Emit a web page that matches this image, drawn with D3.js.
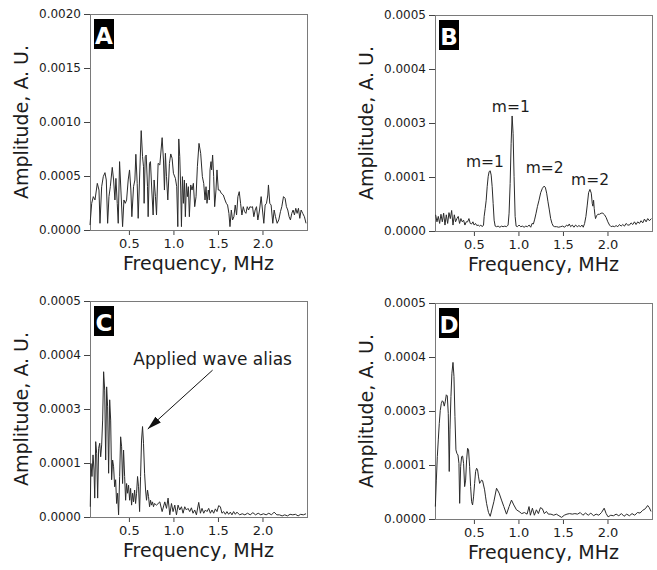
<!DOCTYPE html>
<html><head><meta charset="utf-8">
<script src="https://cdn.jsdelivr.net/npm/d3@7"></script>
<style>body{margin:0;background:#fff} svg{display:block}</style>
</head><body><svg id="chart" width="657" height="570"></svg>
<script>
// amplitudes are stored in units of 1e-4 A.U.
const UNIT = 1e-4;

const freqA = [0.063,0.082,0.100,0.119,0.145,0.164,0.175,0.194,0.212,0.231,
0.246,0.261,0.276,0.291,0.313,0.328,0.343,0.354,0.369,0.380,
0.395,0.410,0.429,0.444,0.459,0.474,0.492,0.507,0.522,0.533,
0.552,0.567,0.578,0.593,0.604,0.619,0.638,0.653,0.664,0.671,
0.683,0.694,0.709,0.716,0.731,0.742,0.757,0.772,0.783,0.798,
0.810,0.828,0.847,0.873,0.888,0.899,0.910,0.922,0.937,0.955,
0.970,0.985,1.000,1.022,1.037,1.049,1.060,1.071,1.082,1.090,
1.101,1.112,1.123,1.134,1.146,1.157,1.168,1.179,1.194,1.209,
1.224,1.239,1.254,1.269,1.287,1.306,1.325,1.340,1.355,1.366,
1.377,1.392,1.403,1.411,1.422,1.429,1.440,1.452,1.463,1.478,
1.489,1.504,1.519,1.537,1.560,1.579,1.594,1.608,1.623,1.635,
1.650,1.664,1.679,1.694,1.709,1.724,1.739,1.754,1.769,1.784,
1.799,1.814,1.829,1.844,1.859,1.873,1.888,1.903,1.918,1.933,
1.948,1.967,1.985,2.000,2.015,2.030,2.045,2.060,2.067,2.082,
2.097,2.116,2.131,2.146,2.165,2.183,2.202,2.217,2.236,2.254,
2.269,2.284,2.299,2.314,2.329,2.344,2.359,2.374,2.389,2.404,
2.419,2.434,2.452,2.471,2.489];
const ampA = [0.46,2.47,3.09,2.78,4.32,3.70,0.62,4.01,4.94,5.31,
4.63,0.62,3.09,4.01,5.80,4.63,2.78,4.78,2.47,0.62,
6.33,3.70,0.31,2.78,2.47,2.78,4.63,5.56,3.70,1.23,
4.01,4.63,7.01,4.32,1.08,4.63,9.20,6.79,5.86,2.47,
6.79,6.94,4.01,1.23,6.17,6.33,3.70,1.39,4.63,3.09,
1.39,6.17,6.02,8.55,6.48,3.70,7.10,4.94,2.78,6.17,
7.04,6.64,5.25,4.78,4.01,0.31,8.43,6.79,3.70,0.31,
4.94,2.47,4.63,1.23,4.32,3.09,4.01,1.23,4.17,3.70,
4.32,2.16,3.09,5.86,8.02,7.10,4.94,4.32,2.78,4.01,
2.47,3.70,2.78,5.56,6.33,5.56,6.94,4.94,2.16,3.70,
5.56,3.70,3.70,3.40,3.24,2.78,2.47,2.31,1.54,0.31,
1.85,0.93,1.23,2.31,1.39,3.09,3.55,2.47,1.39,2.16,
1.70,1.54,2.16,1.85,2.16,2.10,2.16,1.23,1.85,2.16,
0.93,1.85,3.09,1.85,0.62,2.31,2.47,3.24,4.17,2.47,
2.31,0.62,1.85,1.23,0.62,0.93,1.70,2.16,3.09,2.93,
2.16,1.85,1.23,0.93,1.54,1.85,1.39,2.01,1.54,2.01,
1.08,1.85,1.54,1.23,0.62];

const freqB = [0.070,0.085,0.100,0.115,0.130,0.145,0.160,0.175,0.190,0.205,
0.220,0.235,0.250,0.265,0.280,0.294,0.309,0.324,0.339,0.354,
0.369,0.384,0.399,0.414,0.429,0.444,0.459,0.474,0.489,0.503,
0.518,0.533,0.548,0.563,0.578,0.593,0.608,0.615,0.627,0.638,
0.649,0.660,0.671,0.683,0.694,0.705,0.716,0.727,0.739,0.754,
0.772,0.791,0.810,0.828,0.847,0.866,0.884,0.895,0.907,0.918,
0.929,0.940,0.951,0.963,0.974,0.989,1.007,1.026,1.045,1.064,
1.082,1.101,1.120,1.138,1.153,1.168,1.183,1.198,1.213,1.231,
1.250,1.269,1.287,1.302,1.317,1.332,1.347,1.362,1.377,1.392,
1.407,1.429,1.452,1.474,1.496,1.519,1.541,1.556,1.571,1.586,
1.605,1.623,1.642,1.661,1.679,1.698,1.713,1.728,1.743,1.758,
1.773,1.788,1.803,1.818,1.829,1.836,1.844,1.851,1.859,1.866,
1.877,1.892,1.911,1.929,1.948,1.967,1.985,2.004,2.023,2.041,
2.060,2.079,2.097,2.116,2.135,2.153,2.172,2.191,2.209,2.228,
2.247,2.265,2.284,2.303,2.321,2.340,2.359,2.377,2.396,2.415,
2.434,2.452,2.471,2.493];
const ampB = [0.30,0.17,0.27,0.14,0.31,0.17,0.33,0.11,0.30,0.14,
0.34,0.23,0.38,0.11,0.30,0.17,0.23,0.27,0.14,0.23,
0.17,0.20,0.11,0.17,0.17,0.23,0.14,0.13,0.17,0.11,
0.14,0.10,0.11,0.09,0.11,0.08,0.11,0.27,0.42,0.57,
0.82,1.01,1.20,1.23,1.07,0.82,0.51,0.20,0.09,0.08,
0.09,0.07,0.09,0.08,0.09,0.08,0.11,0.33,0.88,2.25,
3.13,2.62,1.01,0.27,0.09,0.08,0.11,0.08,0.09,0.07,
0.09,0.08,0.11,0.07,0.14,0.13,0.22,0.33,0.45,0.57,
0.71,0.79,0.83,0.81,0.70,0.54,0.39,0.23,0.14,0.09,
0.08,0.08,0.07,0.08,0.09,0.07,0.11,0.09,0.13,0.08,
0.11,0.07,0.11,0.08,0.10,0.08,0.11,0.07,0.14,0.27,
0.48,0.71,0.77,0.70,0.51,0.46,0.57,0.42,0.30,0.23,
0.28,0.31,0.31,0.33,0.33,0.30,0.25,0.17,0.11,0.08,
0.09,0.08,0.10,0.08,0.12,0.09,0.12,0.09,0.14,0.11,
0.11,0.15,0.12,0.17,0.12,0.17,0.14,0.19,0.15,0.22,
0.17,0.23,0.19,0.23];

const freqC = [0.066,0.074,0.085,0.097,0.108,0.116,0.127,0.138,0.149,0.160,
0.172,0.183,0.194,0.205,0.216,0.228,0.239,0.250,0.261,0.272,
0.284,0.295,0.306,0.317,0.328,0.340,0.351,0.362,0.373,0.384,
0.396,0.407,0.418,0.429,0.440,0.452,0.463,0.474,0.485,0.496,
0.508,0.519,0.530,0.541,0.552,0.564,0.575,0.586,0.597,0.608,
0.620,0.631,0.642,0.653,0.664,0.676,0.687,0.698,0.709,0.720,
0.732,0.743,0.754,0.765,0.776,0.787,0.810,0.847,0.873,0.903,
0.922,0.940,0.959,0.978,0.996,1.015,1.034,1.052,1.071,1.090,
1.108,1.127,1.146,1.164,1.183,1.202,1.220,1.239,1.258,1.284,
1.303,1.321,1.340,1.359,1.377,1.396,1.415,1.433,1.452,1.471,
1.489,1.508,1.527,1.545,1.564,1.583,1.601,1.620,1.639,1.657,
1.676,1.695,1.713,1.743,1.773,1.802,1.832,1.862,1.892,1.922,
1.952,1.981,2.011,2.041,2.071,2.101,2.131,2.161,2.191,2.221,
2.250,2.280,2.310,2.340,2.370,2.400,2.429,2.459,2.489];
const ampC = [0.19,0.99,0.75,1.30,0.87,0.35,1.79,1.36,0.35,1.54,
1.73,1.23,1.67,2.59,3.69,3.35,1.11,3.41,3.04,0.81,
3.17,2.59,0.69,1.11,0.93,0.56,0.69,0.25,0.44,0.04,
0.75,1.97,1.60,0.62,1.48,0.75,0.31,0.62,0.44,0.59,
0.31,0.53,0.22,0.44,0.28,0.50,0.25,0.44,0.75,0.56,
0.10,0.75,1.85,2.35,1.73,0.81,0.50,0.31,0.50,0.38,
0.19,0.31,0.22,0.28,0.19,0.25,0.22,0.28,0.10,0.28,
0.16,0.35,0.04,0.25,0.10,0.22,0.04,0.22,0.13,0.19,
0.07,0.19,0.13,0.16,0.10,0.17,0.07,0.13,0.04,0.27,
0.07,0.16,0.07,0.13,0.10,0.16,0.07,0.13,0.07,0.15,
0.10,0.21,0.19,0.07,0.10,0.05,0.10,0.05,0.09,0.04,
0.10,0.05,0.09,0.04,0.06,0.04,0.07,0.04,0.08,0.04,
0.07,0.04,0.06,0.04,0.07,0.04,0.09,0.04,0.04,0.02,
0.04,0.02,0.05,0.04,0.05,0.02,0.05,0.04,0.06];

const freqD = [0.067,0.078,0.089,0.100,0.111,0.122,0.134,0.145,0.156,0.167,
0.178,0.190,0.201,0.212,0.223,0.231,0.242,0.253,0.265,0.276,
0.287,0.298,0.309,0.321,0.332,0.340,0.351,0.362,0.373,0.384,
0.396,0.407,0.418,0.429,0.440,0.452,0.463,0.474,0.485,0.496,
0.508,0.519,0.530,0.541,0.552,0.564,0.575,0.586,0.597,0.608,
0.620,0.631,0.642,0.653,0.664,0.683,0.724,0.754,0.783,0.810,
0.836,0.866,0.895,0.922,0.948,0.978,1.007,1.037,1.067,1.097,
1.119,1.134,1.157,1.179,1.202,1.224,1.247,1.269,1.291,1.314,
1.336,1.365,1.396,1.426,1.455,1.485,1.515,1.545,1.575,1.605,
1.634,1.664,1.694,1.724,1.754,1.784,1.813,1.843,1.873,1.903,
1.933,1.963,1.985,2.007,2.037,2.067,2.097,2.127,2.157,2.186,
2.216,2.246,2.276,2.306,2.336,2.366,2.395,2.425,2.451,2.470,
2.489];
const ampD = [0.23,0.72,1.31,1.93,2.54,3.01,3.14,3.19,3.17,3.09,
3.17,3.30,3.28,2.91,0.88,2.30,3.27,3.70,3.90,3.64,
2.79,1.56,1.43,1.37,1.06,0.29,0.97,1.31,1.33,1.06,
0.60,0.72,1.19,1.62,1.56,0.97,0.60,0.32,0.26,0.41,
0.66,0.88,0.94,0.91,0.78,0.66,0.69,0.72,0.71,0.63,
0.54,0.41,0.29,0.20,0.12,0.05,0.32,0.57,0.48,0.35,
0.23,0.09,0.23,0.35,0.26,0.17,0.14,0.10,0.12,0.09,
0.23,0.07,0.20,0.07,0.17,0.10,0.21,0.19,0.10,0.14,
0.09,0.09,0.07,0.09,0.06,0.03,0.07,0.09,0.10,0.09,
0.10,0.09,0.12,0.07,0.11,0.07,0.11,0.06,0.09,0.07,
0.12,0.20,0.10,0.04,0.07,0.06,0.09,0.06,0.10,0.05,
0.09,0.06,0.10,0.07,0.12,0.11,0.16,0.19,0.25,0.21,
0.14];

// tick values (the printed labels of panels B-D read 0.0000, 0.0001, 0.0003, 0.0004, 0.0005)
const yTicksA = [0, 0.0005, 0.0010, 0.0015, 0.0020];
const yTicksBCD = [0, 0.0001, 0.0003, 0.0004, 0.0005];
const xTicks = [0.5, 1.0, 1.5, 2.0];
const xDomain = [0.063, 2.5];
const panelLetters = ["A", "B", "C", "D"];
const xTitle = "Frequency, MHz";
const yTitle = "Amplitude, A. U.";
// annotations (positions in data units)
const labelsB = ["m=1", "m=1", "m=2", "m=2"];
const labelFreqB = [0.623, 0.914, 1.295, 1.804];
const labelAmpB = [1.36, 3.21, 1.16, 0.85];
const aliasText = "Applied wave alias";
const aliasTextPos = [1.44, 3.815];
const aliasArrowFrom = [1.44, 3.72];
const aliasArrowTo = [0.712, 2.26];

// ---------- drawing ----------
const svg = d3.select("#chart");
const W = 217, H = 216;
const frames = [
  {left: 90, top: 14}, {left: 435, top: 15},
  {left: 90, top: 301}, {left: 435, top: 303}
];
const series = [
  {f: freqA, a: ampA, ticks: yTicksA},
  {f: freqB, a: ampB, ticks: yTicksBCD},
  {f: freqC, a: ampC, ticks: yTicksBCD},
  {f: freqD, a: ampD, ticks: yTicksBCD}
];
const FONT = "'DejaVu Sans', Verdana, sans-serif";
const TXT = "#1c1c1c";

svg.append("defs").append("marker")
  .attr("id", "arrow").attr("viewBox", "0 0 14 8")
  .attr("refX", 14).attr("refY", 4)
  .attr("markerWidth", 14).attr("markerHeight", 8)
  .attr("markerUnits", "userSpaceOnUse")
  .attr("orient", "auto")
  .append("path").attr("d", "M0,0 L14,4 L0,8 Z").attr("fill", "#111");

const scales = [];
series.forEach((s, i) => {
  const fr = frames[i];
  const g = svg.append("g").attr("transform", `translate(${fr.left},${fr.top})`);
  const x = d3.scaleLinear().domain(xDomain).range([0, W]);
  const y = d3.scaleLinear().domain(s.ticks)
    .range(s.ticks.map((_, k) => H - k * H / (s.ticks.length - 1)));
  scales.push({x, y, g});

  // y axis
  const ya = g.append("g").call(d3.axisLeft(y).tickValues(s.ticks)
    .tickFormat(d3.format(".4f")).tickSize(6).tickPadding(3));
  ya.select(".domain").remove();
  ya.selectAll("line").attr("stroke", "#444");
  ya.selectAll("text").attr("font-family", FONT).attr("font-size", 12).attr("fill", TXT);

  // x axis
  const xa = g.append("g").attr("transform", `translate(0,${H})`)
    .call(d3.axisBottom(x).tickValues(xTicks).tickFormat(d3.format(".1f"))
      .tickSize(5).tickPadding(4));
  xa.select(".domain").remove();
  xa.selectAll("line").attr("stroke", "#444");
  xa.selectAll("text").attr("font-family", FONT).attr("font-size", 13).attr("fill", TXT);

  // frame
  g.append("rect").attr("x", 0.5).attr("y", 0.5).attr("width", W).attr("height", H)
    .attr("fill", "none").attr("stroke", "#7a7a7a").attr("stroke-width", 1);

  // data line
  const pts = s.f.map((f, k) => [f, s.a[k] * UNIT]);
  g.append("path").datum(pts)
    .attr("d", d3.line().x(d => x(d[0])).y(d => y(d[1])))
    .attr("fill", "none").attr("stroke", "#2b2b2b").attr("stroke-width", 1)
    .attr("stroke-linejoin", "round");

  // titles
  g.append("text").attr("x", W / 2).attr("y", H + 40)
    .attr("text-anchor", "middle").attr("font-family", FONT).attr("font-size", 19)
    .attr("fill", TXT).text(xTitle);
  g.append("text").attr("transform", `translate(-62,${H / 2}) rotate(-90)`)
    .attr("text-anchor", "middle").attr("font-family", FONT).attr("font-size", 19)
    .attr("fill", TXT).text(yTitle);

  // panel letter
  g.append("rect").attr("x", 4).attr("y", 5).attr("width", 20).attr("height", 30).attr("fill", "#000");
  g.append("text").attr("x", 14).attr("y", 29.5).attr("text-anchor", "middle")
    .attr("font-family", FONT).attr("font-weight", "bold").attr("font-size", 23)
    .attr("fill", "#fff").text(panelLetters[i]);
});

// B annotations
{
  const {x, y, g} = scales[1];
  labelsB.forEach((t, k) => {
    g.append("text").attr("x", x(labelFreqB[k])).attr("y", y(labelAmpB[k] * UNIT))
      .attr("text-anchor", "middle").attr("font-family", FONT).attr("font-size", 15.5)
      .attr("fill", TXT).text(t);
  });
}
// C annotation
{
  const {x, y, g} = scales[2];
  g.append("text").attr("x", x(aliasTextPos[0])).attr("y", y(aliasTextPos[1] * UNIT))
    .attr("text-anchor", "middle").attr("font-family", FONT).attr("font-size", 17)
    .attr("fill", TXT).text(aliasText);
  g.append("line")
    .attr("x1", x(aliasArrowFrom[0])).attr("y1", y(aliasArrowFrom[1] * UNIT))
    .attr("x2", x(aliasArrowTo[0])).attr("y2", y(aliasArrowTo[1] * UNIT))
    .attr("stroke", "#111").attr("stroke-width", 1).attr("marker-end", "url(#arrow)");
}
</script></body></html>
